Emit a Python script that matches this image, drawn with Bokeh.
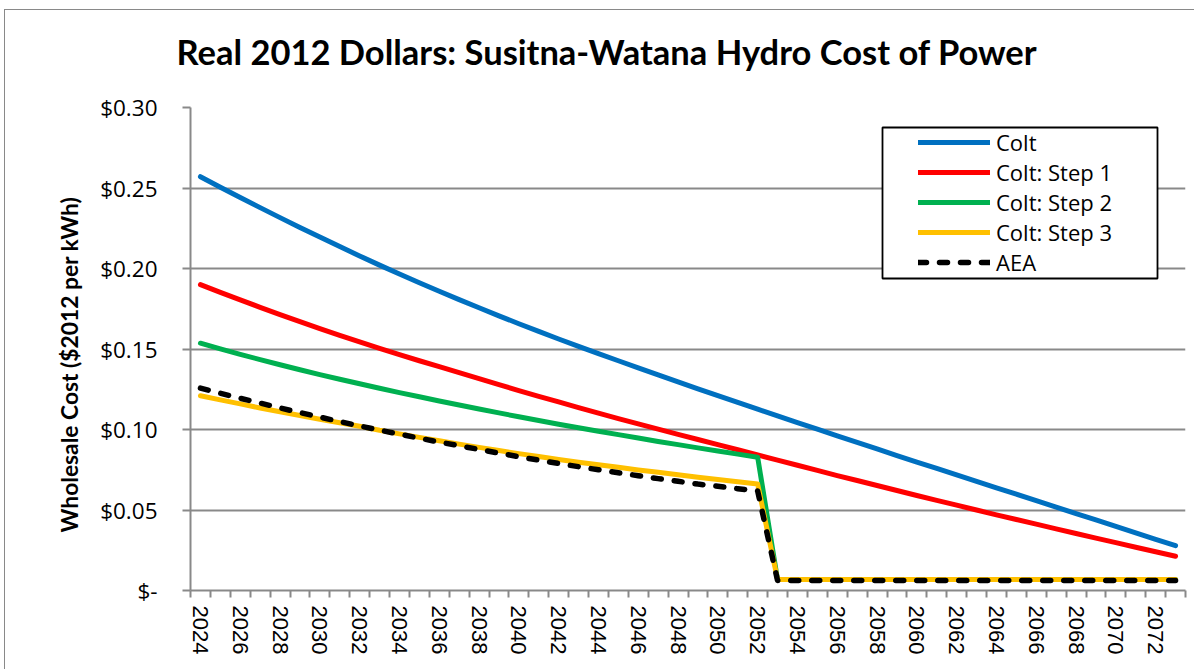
from bokeh.plotting import figure
from bokeh.models import FixedTicker, Legend, LegendItem, BoxAnnotation, Range1d, Title
from bokeh.embed import file_html
from bokeh.resources import INLINE

years = list(range(2024, 2074))

colt = [0.2570, 0.2505, 0.2441, 0.2378, 0.2316, 0.2255, 0.2195, 0.2136, 0.2078, 0.2021,
        0.1966, 0.1912, 0.1859, 0.1807, 0.1756, 0.1706, 0.1657, 0.1609, 0.1562, 0.1516,
        0.1471, 0.1427, 0.1383, 0.1339, 0.1296, 0.1253, 0.1210, 0.1168, 0.1126, 0.1084,
        0.1043, 0.1002, 0.0961, 0.0920, 0.0879, 0.0838, 0.0798, 0.0758, 0.0718, 0.0678,
        0.0638, 0.0598, 0.0558, 0.0518, 0.0478, 0.0438, 0.0398, 0.0358, 0.0318, 0.0278]

step1 = [0.1900, 0.1852, 0.1805, 0.1759, 0.1714, 0.1670, 0.1627, 0.1585, 0.1544, 0.1504,
         0.1465, 0.1427, 0.1390, 0.1353, 0.1316, 0.1279, 0.1242, 0.1206, 0.1171, 0.1136,
         0.1102, 0.1068, 0.1035, 0.1002, 0.0970, 0.0938, 0.0906, 0.0874, 0.0842, 0.0810,
         0.0778, 0.0746, 0.0714, 0.0683, 0.0652, 0.0621, 0.0590, 0.0560, 0.0530, 0.0500,
         0.0470, 0.0441, 0.0412, 0.0383, 0.0354, 0.0325, 0.0297, 0.0269, 0.0241, 0.0213]

step2 = [0.1536, 0.1501, 0.1467, 0.1434, 0.1402, 0.1371, 0.1341, 0.1312, 0.1284, 0.1256,
         0.1229, 0.1203, 0.1177, 0.1152, 0.1127, 0.1103, 0.1079, 0.1056, 0.1033, 0.1011,
         0.0989, 0.0968, 0.0947, 0.0926, 0.0906, 0.0886, 0.0866, 0.0847, 0.0828, 0.0068,
         0.0068, 0.0068, 0.0068, 0.0068, 0.0068, 0.0068, 0.0068, 0.0068, 0.0068, 0.0068,
         0.0068, 0.0068, 0.0068, 0.0068, 0.0068, 0.0068, 0.0068, 0.0068, 0.0068, 0.0068]

step3 = [0.1210, 0.1184, 0.1159, 0.1134, 0.1110, 0.1087, 0.1064, 0.1042, 0.1020, 0.0995,
         0.0973, 0.0951, 0.0930, 0.0909, 0.0889, 0.0869, 0.0850, 0.0832, 0.0814, 0.0797,
         0.0781, 0.0765, 0.0749, 0.0734, 0.0719, 0.0704, 0.0689, 0.0675, 0.0661, 0.0068,
         0.0068, 0.0068, 0.0068, 0.0068, 0.0068, 0.0068, 0.0068, 0.0068, 0.0068, 0.0068,
         0.0068, 0.0068, 0.0068, 0.0068, 0.0068, 0.0068, 0.0068, 0.0068, 0.0068, 0.0068]

aea = [0.1257, 0.1225, 0.1194, 0.1164, 0.1134, 0.1105, 0.1077, 0.1049, 0.1022, 0.0996,
       0.0971, 0.0946, 0.0922, 0.0899, 0.0876, 0.0853, 0.0831, 0.0810, 0.0789, 0.0769,
       0.0750, 0.0731, 0.0713, 0.0695, 0.0678, 0.0661, 0.0647, 0.0632, 0.0618, 0.0062,
       0.0062, 0.0062, 0.0062, 0.0062, 0.0062, 0.0062, 0.0062, 0.0062, 0.0062, 0.0062,
       0.0062, 0.0062, 0.0062, 0.0062, 0.0062, 0.0062, 0.0062, 0.0062, 0.0062, 0.0062]

series_names = ["Colt", "Colt: Step 1", "Colt: Step 2", "Colt: Step 3", "AEA"]
series_colors = ["#0070C0", "#FF0000", "#00B050", "#FFC000", "#000000"]

y_ticks = [0.0, 0.05, 0.10, 0.15, 0.20, 0.25, 0.30]
y_labels = ["$-", "$0.05", "$0.10", "$0.15", "$0.20", "$0.25", "$0.30"]
x_label_years = list(range(2024, 2073, 2))

title_text = "Real 2012 Dollars: Susitna-Watana Hydro Cost of Power"
y_title = "Wholesale Cost ($2012  per kWh)"

GRAY = "#898989"

p = figure(width=1190, height=660, output_backend="svg", toolbar_location=None,
           x_range=Range1d(years[0] - 0.5, years[-1] + 0.5),
           y_range=Range1d(0, 0.30),
           min_border_left=185, min_border_right=10, min_border_top=97, min_border_bottom=80,
           styles={"margin-left": "4px", "margin-top": "9px",
                   "border-left": "1px solid " + GRAY, "border-top": "1px solid " + GRAY})

p.outline_line_color = None
p.background_fill_color = "white"
p.border_fill_color = "white"

# title
p.title.text = title_text
p.title.align = "left"
p.title.offset = -14
p.title.text_font = "Lato"
p.title.text_font_style = "bold"
p.title.text_font_size = "34.5px"
p.title.text_color = "black"
p.title.standoff = 10
p.title.padding = dict(left=0, right=0, top=0, bottom=31)

# y-axis title as a left-side title
ytitle = Title(text=y_title, align="left", offset=58, standoff=30,
               text_font="Lato", text_font_style="bold", text_font_size="22.8px",
               text_color="black")
p.add_layout(ytitle, "left")

# grids
p.xgrid.visible = False
p.ygrid.ticker = FixedTicker(ticks=y_ticks)
p.ygrid.grid_line_color = GRAY
p.ygrid.grid_line_width = 2

# y axis
p.yaxis.ticker = FixedTicker(ticks=y_ticks)
p.yaxis.major_label_overrides = {t: l for t, l in zip(y_ticks, y_labels)}
p.yaxis.axis_line_color = GRAY
p.yaxis.axis_line_width = 2
p.yaxis.major_tick_line_color = GRAY
p.yaxis.major_tick_line_width = 2
p.yaxis.major_tick_out = 8
p.yaxis.major_tick_in = 0
p.yaxis.minor_tick_line_color = None
p.yaxis.major_label_text_font = "Open Sans"
p.yaxis.major_label_text_font_size = "22.5px"
p.yaxis.major_label_text_color = "black"
p.yaxis.major_label_standoff = 25

# x axis
minor = [years[0] - 0.5 + k for k in range(len(years) + 1)]
p.xaxis.ticker = FixedTicker(ticks=x_label_years, minor_ticks=minor)
p.xaxis.major_label_overrides = {y: str(y) for y in x_label_years}
p.xaxis.axis_line_color = GRAY
p.xaxis.axis_line_width = 2
p.xaxis.major_tick_line_color = None
p.xaxis.major_tick_out = 0
p.xaxis.major_tick_in = 0
p.xaxis.minor_tick_line_color = GRAY
p.xaxis.minor_tick_line_width = 2
p.xaxis.minor_tick_out = 7
p.xaxis.minor_tick_in = 0
p.xaxis.major_label_orientation = "vertical"
p.xaxis.major_label_text_font = "Liberation Sans"
p.xaxis.major_label_text_font_size = "22px"
p.xaxis.major_label_text_color = "black"
p.xaxis.major_label_standoff = 8

# legend box
box = BoxAnnotation(left=692, right=967, top=463, bottom=312,
                    left_units="screen", right_units="screen",
                    top_units="screen", bottom_units="screen",
                    fill_color="white", fill_alpha=1.0,
                    line_color="black", line_alpha=1.0, line_width=1.8, level="annotation")
p.add_layout(box)

renderers = []
for data, name, color in zip([colt, step1, step2, step3, aea], series_names, series_colors):
    if name == "AEA":
        r = p.line(years, data, line_color=color, line_width=5.5, line_dash="8 13",
                   line_cap="round", line_join="round")
    else:
        r = p.line(years, data, line_color=color, line_width=5,
                   line_cap="round", line_join="round")
    renderers.append(r)

legend = Legend(items=[LegendItem(label=n, renderers=[r]) for n, r in zip(series_names, renderers)],
                location=(728, 313), margin=0, padding=0, spacing=0,
                label_height=30, glyph_height=30, glyph_width=72, label_standoff=6,
                border_line_color=None, background_fill_alpha=0.0,
                label_text_font="Open Sans", label_text_font_size="22px",
                label_text_color="black")
p.add_layout(legend)

open("out.html", "w").write(file_html(p, INLINE))
